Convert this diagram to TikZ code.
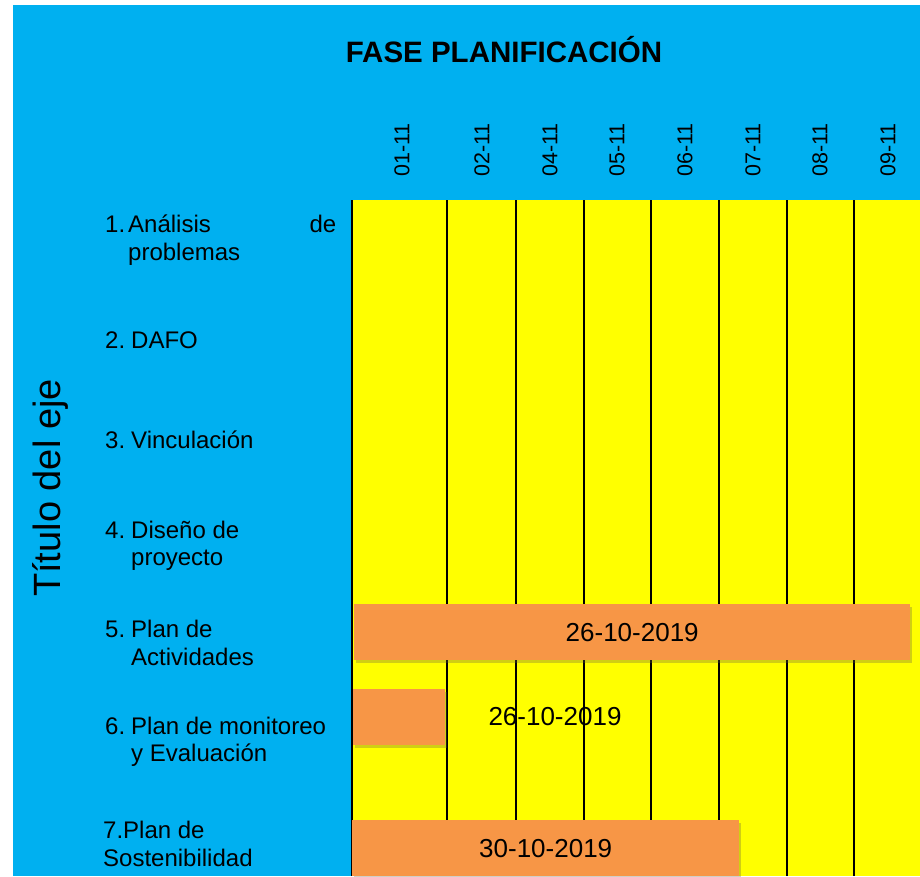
\documentclass[tikz,border=0pt]{standalone}
\usepackage{fontspec}
\setmainfont{Liberation Sans}
\usetikzlibrary{shadows}
\definecolor{skyblue}{HTML}{00B0F0}
\definecolor{chartyellow}{HTML}{FFFF00}
\definecolor{barorange}{HTML}{F79646}
\tikzset{
  rowlab/.style={anchor=west, inner sep=0pt, font=\fontsize{24}{27.5}\selectfont},
  daylab/.style={rotate=90, inner sep=0pt, font=\fontsize{21.5}{25}\selectfont},
  datelab/.style={inner sep=0pt, font=\fontsize{26}{30}\selectfont},
  bar/.style={anchor=north west, fill=barorange, inner sep=0pt, minimum height=56pt,
    drop shadow={shadow xshift=2pt, shadow yshift=-3pt, opacity=0.3, fill=black!70!yellow}},
}
\newcommand{\numlab}[2]{\makebox[#1][l]{#2}}

\begin{document}
\begin{tikzpicture}[x=1pt, y=-1pt]
  \useasboundingbox (0,0) rectangle (920,876);
  % Background
  \fill[skyblue] (13,5) rectangle (920,876);
  \fill[chartyellow] (352,200) rectangle (920,876);
  % Header
  \node (title) [font=\bfseries\fontsize{29.5}{34}\selectfont] at (504,50) {FASE PLANIFICACIÓN};
  \node (axis) [rotate=90, font=\fontsize{38}{44}\selectfont] at (50,488) {Título del eje};
  % Days
  \foreach \x/\lab [count=\i] in {402/01-11, 482/02-11, 550/04-11, 617/05-11, 685/06-11, 753/07-11, 820/08-11, 888/09-11}
    \node[daylab] (d\i) at (\x,150) {\lab};
  % Grid lines
  \foreach \x in {352,447,516,584,651,719,787,854}
    \draw[line width=2pt] (\x,200) -- (\x,876);
  % Tasks
  \node[rowlab] (r1) at (105,240) {\numlab{23pt}{1.}\parbox[t]{208pt}{Análisis\hfill de\\problemas}};
  \node[rowlab] (r2) at (105,340) {\numlab{26pt}{2.}DAFO};
  \node[rowlab] (r3) at (105,440) {\numlab{26pt}{3.}Vinculación};
  \node[rowlab] (r4) at (105,546) {\numlab{26pt}{4.}\parbox[t]{200pt}{Diseño de\\proyecto}};
  \node[rowlab] (r5) at (105,643) {\numlab{26pt}{5.}\parbox[t]{200pt}{Plan de\\Actividades}};
  \node[rowlab] (r6) at (105,742) {\numlab{26pt}{6.}\parbox[t]{215pt}{Plan de monitoreo\\y Evaluación}};
  \node[rowlab] (r7) at (103,844) {\parbox[t]{220pt}{7.Plan de\\Sostenibilidad}};
  % Bars
  \node[bar, minimum width=556pt, datelab] (b5) at (354,604) {26-10-2019};
  \node[bar, minimum width=92pt] (b6) at (353,689) {};
  \node[datelab] (t6) at (555,717) {26-10-2019};
  \node[bar, minimum width=387pt, datelab] (b7) at (352,820) {30-10-2019};
\end{tikzpicture}
\end{document}
